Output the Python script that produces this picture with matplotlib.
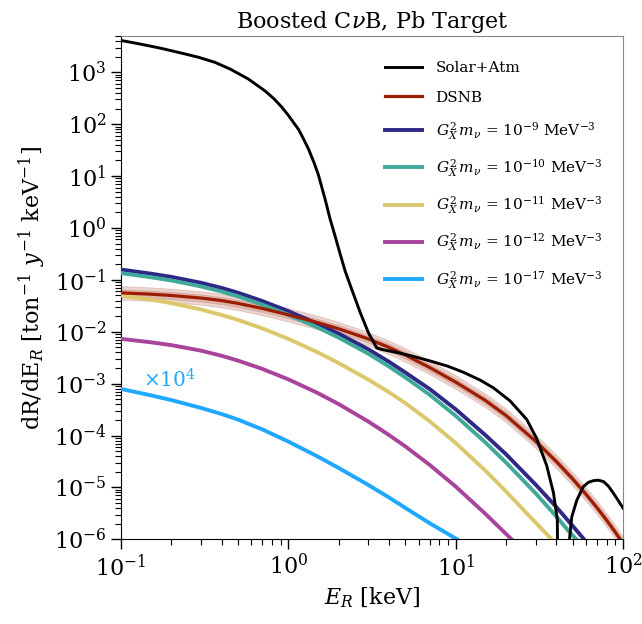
import numpy as np
import matplotlib
matplotlib.use('Agg')
import matplotlib.pyplot as plt
from matplotlib.ticker import LogLocator, NullFormatter

plt.rcParams['font.family'] = ['DejaVu Serif']
plt.rcParams['mathtext.fontset'] = 'dejavuserif'

# Solar + atmospheric background (black), with its form-factor zero near 44 keV
solar_E = [0.1, 0.12, 0.146, 0.18, 0.23, 0.29, 0.365, 0.45, 0.577, 0.726, 0.82,
           0.913, 1.0, 1.15, 1.23, 1.32, 1.42, 1.51, 1.66, 1.77, 1.90, 2.04, 2.18,
           2.39, 2.69, 3.01, 3.37, 3.6, 4.45, 5.5, 7.0, 9.0, 11.1, 14.0, 16.8, 21.1,
           26.6, 30.5, 35.0, 38.4, 40.5, 41.3, 44.0, 47.0, 47.9, 49.4, 53.0, 58.0,
           62.0, 66.6, 71.0, 76.4, 82.0, 87.7, 94.0, 100.0]
solar_R = [4.1e3, 3.68e3, 3.25e3, 2.82e3, 2.34e3, 1.95e3, 1.55e3, 1.15e3, 741, 437,
           309, 214, 148, 79.4, 52.5, 33.1, 18.6, 10.7, 3.55, 1.55, 0.708, 0.316,
           0.151, 0.066, 0.0234, 0.00955, 0.0049, 0.00457, 0.00398, 0.00339,
           0.00275, 0.00216, 0.00166, 0.00117, 8.3e-4, 4.68e-4, 2.04e-4, 8.7e-5,
           2.63e-5, 7.9e-6, 2.4e-6, 1e-9, 1e-11, 1e-9, 1e-6, 2.7e-6, 5.7e-6, 1.04e-5,
           1.25e-5, 1.35e-5, 1.38e-5, 1.3e-5, 1.05e-5, 7.7e-6, 5.5e-6, 4.0e-6]

# DSNB (dark red) with its uncertainty band (multiplicative widths)
dsnb_E = [0.1, 0.15, 0.2, 0.3, 0.4, 0.5, 0.7, 1.0, 1.5, 2.0, 3.0, 4.0, 5.0, 7.0,
          10.0, 15.0, 20.0, 30.0, 40.0, 50.0, 60.0, 70.0, 80.0, 90.0, 100.0]
dsnb_R = [0.0562, 0.0530, 0.0500, 0.0447, 0.0398, 0.0352, 0.0281, 0.0212, 0.0150,
          0.0114, 0.0073, 0.00498, 0.00356, 0.00204, 0.00107, 4.78e-4, 2.43e-4,
          7.8e-5, 3.15e-5, 1.46e-5, 7.43e-6, 4.05e-6, 2.31e-6, 1.37e-6, 8.3e-7]
dsnb_band = [1.35, 1.17]

# Boosted CvB signals for several values of G_X^2 m_nu
grid_E = [0.1, 0.15, 0.2, 0.3, 0.4, 0.5, 0.7, 1.0, 1.5, 2.0, 3.0, 4.0, 5.0, 7.0,
          10.0, 15.0, 20.0, 30.0, 40.0, 50.0]

sig_9_E = grid_E + [58.5]
sig_9_R = [0.158, 0.132, 0.114, 0.0879, 0.0698, 0.0565, 0.039, 0.0249, 0.01416,
           0.00918, 0.00461, 0.00263, 0.00164, 7.85e-4, 3.21e-4, 1.03e-4, 4.36e-5,
           1.14e-5, 4.17e-6, 1.82e-6, 1e-6]

sig_10_E = grid_E[:19] + [47.0, 52.6]
sig_10_R = [0.135, 0.1125, 0.0974, 0.0748, 0.0594, 0.0481, 0.0332, 0.0212, 0.01205,
            0.0077, 0.00379, 0.00213, 0.00132, 6.08e-4, 2.40e-4, 7.43e-5, 3.01e-5,
            7.76e-6, 2.75e-6, 1.48e-6, 1e-6]

sig_11_E = grid_E[:18] + [37.5]
sig_11_R = [0.050, 0.0418, 0.0356, 0.0269, 0.0210, 0.0169, 0.0116, 0.0073, 0.0040,
            0.00249, 0.0012, 6.82e-4, 4.22e-4, 1.88e-4, 7.18e-5, 2.13e-5, 8.36e-6,
            2.11e-6, 1e-6]

sig_12_E = grid_E[:16] + [21.6]
sig_12_R = [7.3e-3, 6.28e-3, 5.52e-3, 4.33e-3, 3.44e-3, 2.78e-3, 1.92e-3, 1.21e-3,
            6.58e-4, 4.03e-4, 1.87e-4, 1.02e-4, 6.18e-5, 2.71e-5, 1.04e-5, 3.13e-6, 1e-6]

sig_17_E = grid_E[:14] + [10.2]
sig_17_R = [7.9e-4, 5.98e-4, 4.82e-4, 3.41e-4, 2.59e-4, 2.03e-4, 1.31e-4, 7.66e-5,
            3.93e-5, 2.37e-5, 1.12e-5, 6.38e-6, 4.04e-6, 2.04e-6, 1e-6]

signals = [
    (sig_9_E, sig_9_R, '#2e2886', -9),
    (sig_10_E, sig_10_R, '#3fa99a', -10),
    (sig_11_E, sig_11_R, '#dcc86c', -11),
    (sig_12_E, sig_12_R, '#a8449c', -12),
    (sig_17_E, sig_17_R, '#1fa8ff', -17),
]

fig = plt.figure(figsize=(6.42, 6.24), dpi=100)
ax = fig.add_axes([0.1885, 0.1357, 0.7819, 0.8066])

ax.plot(solar_E, solar_R, color='black', lw=2.1, label='Solar+Atm', zorder=5)

d_E = np.array(dsnb_E)
d_R = np.array(dsnb_R)
for f in dsnb_band:
    ax.fill_between(d_E, d_R / f, d_R * f, color='#c27464', alpha=0.3, lw=0.6,
                    edgecolor='#b86a5a', zorder=2)
ax.plot(d_E, d_R, color='#9c1d00', lw=2.3, label='DSNB', zorder=4)

for E, R, c, p in signals:
    ax.plot(E, R, color=c, lw=2.8, zorder=3,
            label=r'$G_X^2\, m_\nu$ = $10^{%d}$ MeV$^{-3}$' % p)

ax.text(0.135, 8.4e-4, r'$\times10^4$', color='#1fa8ff', fontsize=14.5, va='baseline')

ax.set_xscale('log')
ax.set_yscale('log')
ax.set_xlim(0.1, 100)
ax.set_ylim(1e-6, 5e3)
ax.yaxis.set_major_locator(LogLocator(base=10, numticks=20))
ax.yaxis.set_minor_locator(LogLocator(base=10, subs=np.arange(2, 10), numticks=20))
ax.yaxis.set_minor_formatter(NullFormatter())

ax.tick_params(which='major', direction='out', length=7, width=1.0, labelsize=16)
ax.tick_params(which='minor', direction='out', length=4, width=0.8)
for s in ['top', 'right']:
    ax.spines[s].set_color('#888888')

ax.set_xlabel(r'$E_R$ [keV]', fontsize=16)
ax.set_ylabel(r'dR/dE$_R$ [ton$^{-1}$ $y^{-1}$ keV$^{-1}$]', fontsize=16)
ax.set_title(r'Boosted C$\nu$B, Pb Target', fontsize=16, pad=6)

ax.legend(loc='upper right', bbox_to_anchor=(0.986, 0.977), frameon=False, fontsize=11,
          handlelength=2.4, labelspacing=1.0, handletextpad=0.9)

fig.savefig('out.png', dpi=100)
